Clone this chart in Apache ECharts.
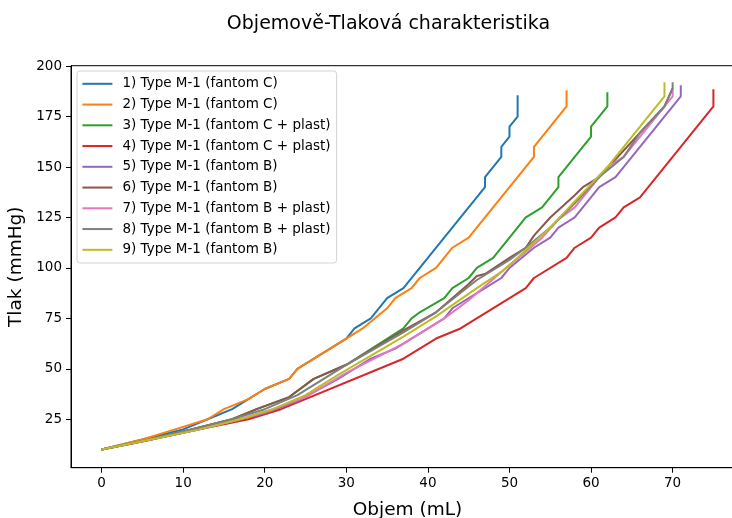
<!DOCTYPE html>
<html>
<head>
<meta charset="utf-8">
<script src="https://cdn.jsdelivr.net/npm/echarts@6/dist/echarts.min.js"></script>
<style>
  html, body { margin: 0; padding: 0; background: #fff; }
  #chart { width: 732px; height: 518px; }
</style>
</head>
<body>
<div id="chart"></div>
<script>
// Measured volume (mL) / pressure (mmHg) pairs for each test run
const seriesNames = [
  '1) Type M-1 (fantom C)',
  '2) Type M-1 (fantom C)',
  '3) Type M-1 (fantom C + plast)',
  '4) Type M-1 (fantom C + plast)',
  '5) Type M-1 (fantom B)',
  '6) Type M-1 (fantom B)',
  '7) Type M-1 (fantom B + plast)',
  '8) Type M-1 (fantom B + plast)',
  '9) Type M-1 (fantom B)'
];
const lineColors = ['#1f77b4', '#ff7f0e', '#2ca02c', '#d62728', '#9467bd',
                    '#8c564b', '#e377c2', '#7f7f7f', '#bcbd22'];

const vol1  = [0, 5, 10, 13, 16, 18, 20, 23, 24, 30, 31, 33, 35, 37, 47, 47, 49, 49, 50, 50, 51, 51];
const pres1 = [10, 15, 20, 25, 30, 35, 40, 45, 50, 65, 70, 75, 85, 90, 140, 145, 155, 160, 165, 170, 175, 185.5];

const vol2  = [0, 5, 9, 13, 15, 18, 20, 23, 24, 30, 32, 35, 36, 38, 39, 41, 43, 45, 53, 53, 57, 57];
const pres2 = [10, 15, 20, 25, 30, 35, 40, 45, 50, 65, 70, 80, 85, 90, 95, 100, 110, 115, 155, 160, 180, 188];

const vol3  = [0, 6, 11, 16, 19, 23, 26, 30, 37, 38, 39, 42, 43, 45, 46, 48, 52, 54, 56, 56, 60, 60, 62, 62];
const pres3 = [10, 15, 20, 25, 30, 36, 45, 52, 70, 75, 78, 85, 90, 95, 100, 105, 125, 130, 140, 145, 165, 170, 180, 187];

const vol4  = [0, 5, 12, 18, 22, 37, 41, 44, 52, 53, 57, 58, 60, 61, 63, 64, 66, 75, 75];
const pres4 = [10, 14, 20, 25, 30, 55, 65, 70, 90, 95, 105, 110, 115, 120, 125, 130, 135, 180, 188.5];

const vol5  = [0, 6, 12, 17, 20, 24, 29, 33, 36, 38, 42, 43, 47, 49, 50, 53, 55, 56, 58, 61, 63, 71, 71];
const pres5 = [10, 15, 20, 25, 28, 34, 45, 55, 60, 65, 75, 80, 90, 95, 100, 110, 115, 120, 125, 140, 145, 185, 190.5];

const vol6  = [0, 6, 11, 16, 19, 23, 26, 30, 37, 41, 45, 46, 47, 50, 52, 53, 55, 58, 59, 61, 66, 69, 70];
const pres6 = [10, 15, 20, 25, 30, 36, 45, 52, 69, 78, 92, 96, 97, 105, 110, 116, 125, 136, 140, 145, 167, 180, 189];

const vol7  = [0, 6, 12, 17, 21, 25, 30, 37, 42, 45, 49, 52, 54, 56, 58, 62, 64, 70, 70];
const pres7 = [10, 15, 20, 25, 30, 36, 48, 62.5, 75, 84, 98, 108, 115, 124, 130, 150, 155, 185, 189];

const vol8  = [0, 6, 11, 16, 20, 24, 30, 37, 41, 46, 50, 52, 55, 58, 61, 64, 66, 69, 70, 70];
const pres8 = [10, 15, 20, 25, 30, 37, 52, 68, 78, 94, 104, 110, 120, 132, 145, 155, 167, 180, 189, 192];

const vol9  = [0, 6, 12, 17, 21, 25, 29, 37, 41, 46, 49, 51, 55, 58, 62, 69, 69];
const pres9 = [10, 15, 20, 25, 30, 37, 47, 66, 76, 90, 98, 105, 120, 133, 150, 185, 192];

const volumes   = [vol1, vol2, vol3, vol4, vol5, vol6, vol7, vol8, vol9];
const pressures = [pres1, pres2, pres3, pres4, pres5, pres6, pres7, pres8, pres9];

const xTicks = [0, 10, 20, 30, 40, 50, 60, 70];
const yTicks = [25, 50, 75, 100, 125, 150, 175, 200];

const FONT = 'DejaVu Sans';
const chart = echarts.init(document.getElementById('chart'), null, { renderer: 'canvas' });

const series = seriesNames.map((name, k) => ({
  name: name,
  type: 'line',
  data: volumes[k].map((v, i) => [v, pressures[k][i]]),
  symbol: 'none',
  showSymbol: false,
  lineStyle: { color: lineColors[k], width: 2 },
  itemStyle: { color: lineColors[k] },
  emphasis: { disabled: true },
  z: 2
}));

const axisLineStyle = { color: '#000', width: 1 };

chart.setOption({
  animation: false,
  backgroundColor: '#fff',
  title: {
    text: 'Objemově-Tlaková charakteristika',
    left: 383.5,
    top: 10,
    textAlign: 'center',
    textStyle: { fontFamily: FONT, fontSize: 19, fontWeight: 'normal', color: '#000' }
  },
  grid: {
    left: 71, top: 65.7, width: 673, height: 402,
    outerBoundsMode: 'none',
    containLabel: false,
    show: true, borderColor: '#000', borderWidth: 1, backgroundColor: 'transparent'
  },
  legend: {
    orient: 'vertical',
    left: 77, top: 71,
    icon: 'rect',
    itemWidth: 30, itemHeight: 2, itemGap: 6.75,
    padding: [5.8, 6, 6.2, 5.4],
    backgroundColor: 'rgba(255,255,255,0.8)',
    borderColor: '#d3d3d3', borderWidth: 1, borderRadius: 3,
    textStyle: { fontFamily: FONT, fontSize: 13.5, lineHeight: 14, color: '#000', padding: [0, 0, 0, 5] },
    data: seriesNames,
    selectedMode: false
  },
  xAxis: {
    type: 'value',
    min: -3.75, max: 78.75,
    name: 'Objem (mL)',
    nameLocation: 'middle',
    nameGap: 33,
    nameTextStyle: { fontFamily: FONT, fontSize: 18.5, color: '#000' },
    splitLine: { show: false },
    axisLine: { show: true, onZero: false, lineStyle: axisLineStyle },
    axisTick: { show: true, length: 5, lineStyle: axisLineStyle, customValues: xTicks },
    axisLabel: { fontFamily: FONT, fontSize: 13.5, color: '#000', margin: 9, customValues: xTicks }
  },
  yAxis: {
    type: 'value',
    min: 1, max: 200.2,
    name: 'Tlak (mmHg)',
    nameLocation: 'middle',
    nameGap: 35,
    nameTextStyle: { fontFamily: FONT, fontSize: 18.5, color: '#000' },
    splitLine: { show: false },
    axisLine: { show: true, onZero: false, lineStyle: axisLineStyle },
    axisTick: { show: true, length: 5, lineStyle: axisLineStyle, customValues: yTicks },
    axisLabel: { fontFamily: FONT, fontSize: 13.5, color: '#000', margin: 9, customValues: yTicks }
  },
  series: series
});
</script>
</body>
</html>
